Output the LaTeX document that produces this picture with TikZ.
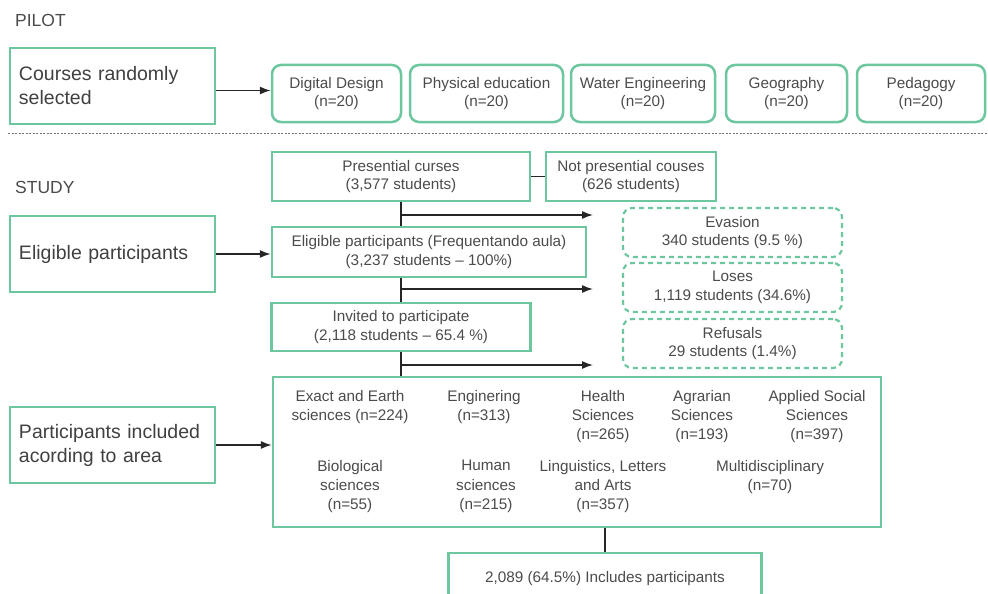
\documentclass[tikz,border=0pt]{standalone}
\usepackage{fontspec}
\setmainfont{Liberation Sans}
\usetikzlibrary{arrows.meta,calc}
\definecolor{boxgreen}{RGB}{108,198,158}
\definecolor{txtgray}{RGB}{75,75,75}
\tikzset{
  sqbox/.style={draw=boxgreen,line width=2.5pt,inner sep=0pt,align=center,text=txtgray,font=\fontsize{15.3}{18.5}\selectfont},
  rbox/.style={sqbox,rounded corners=9pt},
  dbox/.style={draw=boxgreen,line width=2.2pt,dash pattern=on 5pt off 4pt,rounded corners=9pt,inner sep=0pt,align=center,text=txtgray,font=\fontsize{15.3}{18.5}\selectfont},
  labbox/.style={draw=boxgreen,line width=2.5pt,inner sep=0pt,text width=187pt,align=left,text=txtgray!85!black,font=\fontsize{19.5}{24}\selectfont,minimum width=205pt,minimum height=76pt},
  areatxt/.style={align=center,text=txtgray,font=\fontsize{15.3}{19.3}\selectfont,inner sep=0pt,anchor=north},
  conn/.style={draw=black!85,line width=1.4pt},
  arr/.style={conn,-{Latex[length=11pt,width=8pt]}},
  head/.style={text=txtgray,font=\fontsize{17.5}{20}\selectfont,anchor=west,inner sep=0pt}
}
\begin{document}
\begin{tikzpicture}[x=1pt,y=-1pt]
\useasboundingbox (0,0) rectangle (988,594);
% headings
\node[head] (pilot) at (15,20) {PILOT};
\node[head] (study) at (15,187) {STUDY};
\draw[black!55,line width=0.9pt,dash pattern=on 2pt off 1.5pt] (8,133) -- (988,133);
% left labels
\node[labbox] (courses) at (112.5,86) {Courses randomly\\selected};
\node[labbox] (elig) at (112.5,254) {Eligible participants};
\node[labbox] (incl) at (112.5,445) {Participants included\\acording to area};
% pilot courses
\node[rbox,minimum width=129pt,minimum height=57pt] (dd) at (336.5,93.5) {Digital Design\\(n=20)};
\node[rbox,minimum width=153pt,minimum height=57pt] (pe) at (486.5,93.5) {Physical education\\(n=20)};
\node[rbox,minimum width=144pt,minimum height=57pt] (we) at (643,93.5) {Water Engineering\\(n=20)};
\node[rbox,minimum width=121pt,minimum height=57pt] (geo) at (786.5,93.5) {Geography\\(n=20)};
\node[rbox,minimum width=128pt,minimum height=57pt] (ped) at (921,93.5) {Pedagogy\\(n=20)};
\draw[arr] ([yshift=-4.5pt]courses.east) -- ([yshift=-4.5pt]courses.east -| dd.west);
% study flow
\node[sqbox,minimum width=258pt,minimum height=49pt] (pres) at (401,176.5) {Presential curses\\(3,577 students)};
\node[sqbox,minimum width=170pt,minimum height=49pt] (npres) at (631,176.5) {Not presential couses\\(626 students)};
\node[sqbox,minimum width=314pt,minimum height=50pt] (eligb) at (429,252) {Eligible participants (Frequentando aula)\\(3,237 students -- 100\%)};
\node[sqbox,minimum width=259pt,minimum height=48pt] (inv) at (401,327) {Invited to participate\\(2,118 students -- 65.4 \%)};
\node[sqbox,minimum width=608pt,minimum height=150pt] (area) at (577,452) {};
\node[sqbox,minimum width=313pt,minimum height=52pt] (final) at (605,579) {2,089 (64.5\%) Includes participants};
% dashed exclusion boxes
\node[dbox,minimum width=219pt,minimum height=49pt] (eva) at (732.5,232.5) {Evasion\\340 students (9.5 \%)};
\node[dbox,minimum width=219pt,minimum height=49pt] (los) at (732.5,287.5) {Loses\\1,119 students (34.6\%)};
\node[dbox,minimum width=219pt,minimum height=49pt] (ref) at (732.5,343.5) {Refusals\\29 students (1.4\%)};
% connectors
\draw[conn] (pres.east) -- (npres.west);
\draw[conn] (pres.south) -- (pres.south |- eligb.north);
\draw[conn] (pres.south |- eligb.south) -- (inv.north);
\draw[conn] (inv.south) -- (inv.south |- area.north);
\draw[conn] (final.north |- area.south) -- (final.north);
\coordinate (b1) at (401,215); \coordinate (e1) at (593,215);
\coordinate (b2) at (401,289); \coordinate (e2) at (593,289);
\coordinate (b3) at (401,365); \coordinate (e3) at (593,365);
\draw[arr] (b1) -- (e1);
\draw[arr] (b2) -- (e2);
\draw[arr] (b3) -- (e3);
\draw[arr] (elig.east) -- (elig.east -| eligb.west);
\draw[arr] (incl.east) -- (incl.east -| area.west);
% area contents
\node[areatxt] (a1) at (350,390) {Exact and Earth\\sciences (n=224)};
\node[areatxt] (a2) at (484,390) {Enginering\\(n=313)};
\node[areatxt] (a3) at (603,390) {Health\\Sciences\\(n=265)};
\node[areatxt] (a4) at (702,390) {Agrarian\\Sciences\\(n=193)};
\node[areatxt] (a5) at (817,390) {Applied Social\\Sciences\\(n=397)};
\node[areatxt] (a6) at (350,460) {Biological\\sciences\\(n=55)};
\node[areatxt] (a7) at (486,460) {Human\\sciences\\(n=215)};
\node[areatxt] (a8) at (603,460) {Linguistics, Letters\\and Arts\\(n=357)};
\node[areatxt] (a9) at (770,460) {Multidisciplinary\\(n=70)};
\end{tikzpicture}
\end{document}
